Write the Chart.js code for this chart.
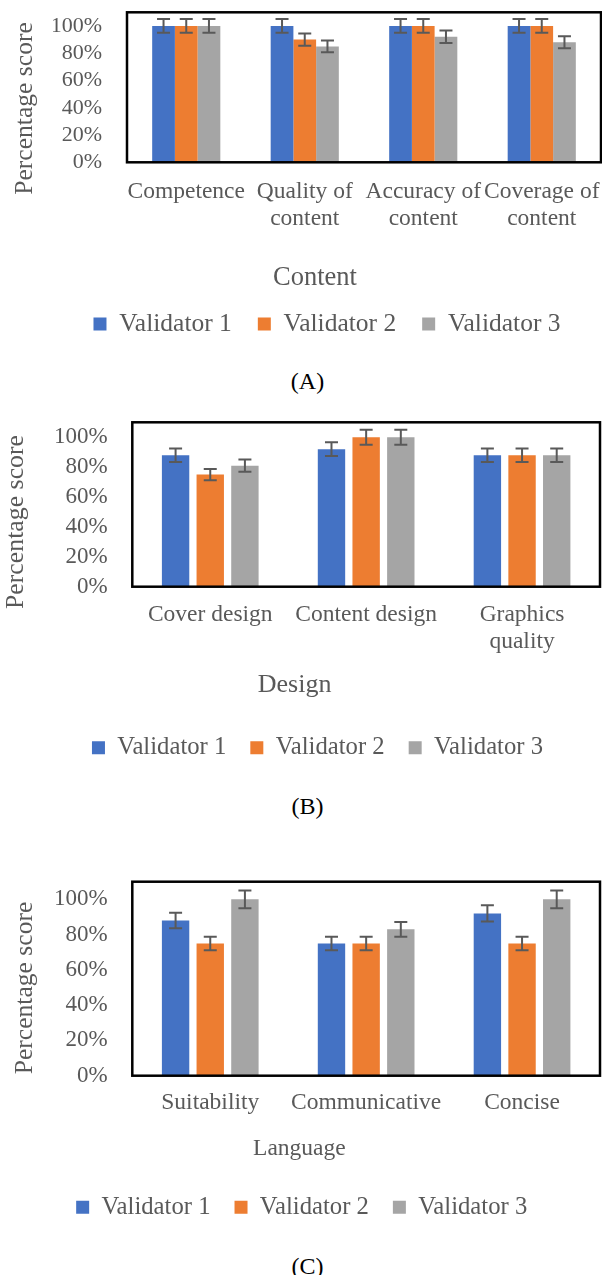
<!DOCTYPE html>
<html><head><meta charset="utf-8">
<script src="https://cdn.jsdelivr.net/npm/chart.js@4.4.1/dist/chart.umd.min.js"></script>
<style>
html,body{margin:0;padding:0;background:#fff;}
body{width:602px;height:1275px;position:relative;overflow:hidden;font-family:'Liberation Serif',serif;}
canvas{position:absolute;left:0;}
.cap{position:absolute;left:0;width:615px;text-align:center;font-size:24px;color:#000;line-height:26px;font-family:'Liberation Serif',serif;}
</style></head><body>
<canvas id="cA" width="602" height="350" style="top:0px;width:602px;height:350px"></canvas>
<div class="cap" style="top:368px">(A)</div>
<canvas id="cB" width="602" height="364" style="top:410px;width:602px;height:364px"></canvas>
<div class="cap" style="top:793px">(B)</div>
<canvas id="cC" width="602" height="364" style="top:870px;width:602px;height:364px"></canvas>
<div class="cap" style="top:1253px">(C)</div>
<script>
// ---------- data ----------
const seriesNames = ['Validator 1', 'Validator 2', 'Validator 3'];
const yTicks = [0, 20, 40, 60, 80, 100];
const yMax = 110;

const contentCategories = ['Competence', ['Quality of', 'content'], ['Accuracy of', 'content'], ['Coverage of', 'content']];
const contentV1 = [100, 100, 100, 100];
const contentV2 = [100, 90, 100, 100];
const contentV3 = [100, 85, 92, 88];
const contentErr1 = [5, 5, 5, 5];
const contentErr2 = [5, 4.5, 5, 5];
const contentErr3 = [5, 4.3, 4.6, 4.4];

const designCategories = ['Cover design', 'Content design', ['Graphics', 'quality']];
const designV1 = [88, 92, 88];
const designV2 = [75, 100, 88];
const designV3 = [81, 100, 88];
const designErr1 = [4.5, 4.6, 4.5];
const designErr2 = [3.8, 5, 4.5];
const designErr3 = [4.1, 5, 4.5];

const languageCategories = ['Suitability', 'Communicative', 'Concise'];
const languageV1 = [88, 75, 92];
const languageV2 = [75, 75, 75];
const languageV3 = [100, 83, 100];
const languageErr1 = [4.4, 3.8, 4.6];
const languageErr2 = [3.8, 3.8, 3.8];
const languageErr3 = [5, 4.2, 5];

// ---------- styling ----------
const COLORS = ['#4472C4', '#ED7D31', '#A5A5A5'];
const TEXT = '#595959';
const FONT = "'Liberation Serif', 'Times New Roman', serif";
Chart.defaults.font.family = FONT;
Chart.defaults.color = TEXT;

const framePlugin = {
  id: 'frame',
  afterDatasetsDraw(chart) {
    const {ctx, chartArea: a} = chart;
    ctx.save();
    ctx.strokeStyle = '#000';
    ctx.lineWidth = 2.5;
    ctx.strokeRect(a.left, a.top, a.right - a.left, a.bottom - a.top);
    ctx.restore();
  }
};

const errorBarPlugin = {
  id: 'errorBars',
  afterDatasetsDraw(chart, args, opts) {
    const ys = chart.scales.y, ctx = chart.ctx;
    ctx.save();
    ctx.strokeStyle = opts.color || '#595959';
    ctx.lineWidth = opts.width || 2;
    const h = (opts.cap || 13) / 2;
    chart.data.datasets.forEach((ds, i) => {
      const meta = chart.getDatasetMeta(i);
      meta.data.forEach((bar, j) => {
        const v = ds.data[j], e = ds.errors[j];
        const x = bar.x, y1 = ys.getPixelForValue(v + e), y2 = ys.getPixelForValue(v - e);
        ctx.beginPath();
        ctx.moveTo(x, y1); ctx.lineTo(x, y2);
        ctx.moveTo(x - h, y1); ctx.lineTo(x + h, y1);
        ctx.moveTo(x - h, y2); ctx.lineTo(x + h, y2);
        ctx.stroke();
      });
    });
    ctx.restore();
  }
};

const axisTextPlugin = {
  id: 'axisText',
  afterDraw(chart, args, opts) {
    const ctx = chart.ctx;
    const yt = opts.yTitle, xt = opts.xTitle;
    ctx.save();
    ctx.fillStyle = TEXT;
    ctx.textAlign = 'center';
    ctx.font = yt.size + 'px ' + FONT;
    ctx.textBaseline = 'middle';
    ctx.translate(yt.x, yt.y);
    ctx.rotate(-Math.PI / 2);
    ctx.fillText(yt.text, 0, 0);
    ctx.restore();
    ctx.save();
    ctx.fillStyle = TEXT;
    ctx.textAlign = 'center';
    ctx.textBaseline = 'alphabetic';
    ctx.font = xt.size + 'px ' + FONT;
    ctx.fillText(xt.text, xt.x, xt.y);
    ctx.restore();
  }
};

function makeChart(id, categories, values, errors, cfg) {
  const W = 602;
  const itemH = Math.max(cfg.legendFont, 13);
  const legendTop = cfg.legendCenter - cfg.legendPad - itemH / 2;
  const legendH = itemH + cfg.legendPad + 10;
  const padBottom = cfg.height - legendTop - legendH;
  const xH = legendTop - cfg.areaBottom;
  const padLeft = 2 * cfg.legendCenterX - (W - cfg.padRight);
  const yW = cfg.areaLeft - padLeft;

  const datasets = seriesNames.map((name, i) => ({
    label: name,
    data: values[i],
    errors: errors[i],
    backgroundColor: COLORS[i],
    borderWidth: 0,
    barPercentage: cfg.barPct,
    categoryPercentage: cfg.catPct
  }));

  return new Chart(document.getElementById(id), {
    type: 'bar',
    data: {labels: categories, datasets},
    plugins: [errorBarPlugin, framePlugin, axisTextPlugin],
    options: {
      responsive: false,
      animation: false,
      events: [],
      layout: {padding: {top: cfg.areaTop, bottom: padBottom, left: padLeft, right: cfg.padRight}},
      scales: {
        x: {
          type: 'category',
          offset: true,
          grid: {display: false, drawTicks: false},
          border: {display: false},
          ticks: {padding: cfg.xTickPad, color: TEXT, maxRotation: 0, minRotation: 0, autoSkip: false,
                  font: {size: cfg.xFont, lineHeight: cfg.xLine}},
          afterFit(s) { s.height = xH; s.paddingLeft = 0; s.paddingRight = 0; s.paddingTop = 0; s.paddingBottom = 0; }
        },
        y: {
          min: 0, max: yMax,
          grid: {display: false, drawTicks: false},
          border: {display: false},
          afterBuildTicks(s) { s.ticks = yTicks.map(v => ({value: v})); },
          ticks: {padding: cfg.yTickPad, color: TEXT, font: {size: cfg.yFont}, callback: v => v + '%'},
          afterFit(s) { s.width = yW; s.paddingTop = 0; s.paddingBottom = 0; s.paddingLeft = 0; s.paddingRight = 0; }
        }
      },
      plugins: {
        legend: {
          position: 'bottom',
          labels: {boxWidth: 13, boxHeight: 13, padding: cfg.legendPad, color: TEXT, font: {size: cfg.legendFont}}
        },
        tooltip: {enabled: false},
        errorBars: {color: '#595959', width: 2, cap: 13},
        axisText: {yTitle: cfg.yTitle, xTitle: cfg.xTitle}
      }
    }
  });
}

makeChart('cA', contentCategories, [contentV1, contentV2, contentV3], [contentErr1, contentErr2, contentErr3], {
  height: 350, areaTop: 12.3, areaBottom: 162.3, areaLeft: 127, padRight: 1,
  legendCenter: 324, legendCenterX: 327, legendFont: 25.5, legendPad: 26,
  barPct: 1, catPct: 0.575,
  xFont: 23.5, xLine: 1.136, xTickPad: 16, yFont: 22, yTickPad: 25,
  yTitle: {text: 'Percentage score', x: 25, y: 108.5, size: 25.6},
  xTitle: {text: 'Content', x: 315, y: 285, size: 26.5}
});

makeChart('cB', designCategories, [designV1, designV2, designV3], [designErr1, designErr2, designErr3], {
  height: 364, areaTop: 12.3, areaBottom: 176.7, areaLeft: 132.3, padRight: 2,
  legendCenter: 337.7, legendCenterX: 317.5, legendFont: 24.7, legendPad: 24,
  barPct: 0.79, catPct: 0.667,
  xFont: 23.5, xLine: 1.136, xTickPad: 15, yFont: 23, yTickPad: 24.6,
  yTitle: {text: 'Percentage score', x: 16, y: 112, size: 25.8},
  xTitle: {text: 'Design', x: 294.6, y: 281.7, size: 26}
});

makeChart('cC', languageCategories, [languageV1, languageV2, languageV3], [languageErr1, languageErr2, languageErr3], {
  height: 364, areaTop: 11.7, areaBottom: 205.7, areaLeft: 132.3, padRight: 2,
  legendCenter: 337.3, legendCenterX: 301.7, legendFont: 24.7, legendPad: 24,
  barPct: 0.79, catPct: 0.667,
  xFont: 23.5, xLine: 1.136, xTickPad: 14, yFont: 23, yTickPad: 24.6,
  yTitle: {text: 'Percentage score', x: 25, y: 118, size: 25.6},
  xTitle: {text: 'Language', x: 299.4, y: 285, size: 23.5}
});
</script>
</body></html>
